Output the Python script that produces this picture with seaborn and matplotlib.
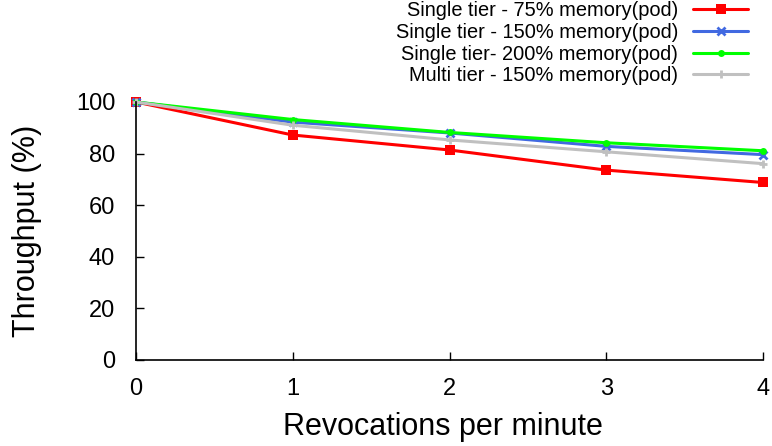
import pandas as pd
import matplotlib.pyplot as plt
import seaborn as sns

# 数据
revocations = [0, 1, 2, 3, 4]
single_75 = [100, 87.2, 81.4, 73.6, 68.8]
single_150 = [100, 92.2, 88.0, 82.8, 79.6]
single_200 = [100, 93.2, 88.2, 84.2, 81.1]
multi_150 = [100, 91.0, 85.3, 80.7, 76.1]

labels = ['Single tier - 75% memory(pod)', 'Single tier - 150% memory(pod)',
          'Single tier- 200% memory(pod)', 'Multi tier - 150% memory(pod)']
series = [single_75, single_150, single_200, multi_150]
colors = ['#ff0000', '#4169e1', '#00ff00', '#c0c0c0']
markers = ['s', 'x', 'o', '+']
msizes = [6.5, 6, 5, 6]
mews = [0, 2, 0, 2]

rows = []
for lab, vals in zip(labels, series):
    for x, v in zip(revocations, vals):
        rows.append({'rev': x, 'tp': v, 'series': lab})
df = pd.DataFrame(rows)

sns.set_style('ticks')
plt.rcParams['font.family'] = ['Liberation Sans', 'DejaVu Sans']
plt.rcParams['text.color'] = 'black'
plt.rcParams['axes.labelcolor'] = 'black'
plt.rcParams['xtick.color'] = 'black'
plt.rcParams['ytick.color'] = 'black'

fig = plt.figure(figsize=(7.72, 4.46), dpi=100)
ax = fig.add_axes([136/772, 1-360/446, (763-136)/772, (360-102)/446])

for lab, c, m, ms, mew in zip(labels, colors, markers, msizes, mews):
    sns.lineplot(data=df[df['series'] == lab], x='rev', y='tp', ax=ax, color=c,
                 marker=m, markersize=ms, markeredgewidth=mew, markeredgecolor=c,
                 linewidth=2.2, label=lab, clip_on=False)

ax.set_xlim(0, 4)
ax.set_ylim(0, 100)
ax.set_xticks(revocations)
ax.set_yticks([0, 20, 40, 60, 80, 100])
ax.tick_params(direction='in', length=6, width=1, labelsize=17)
ax.tick_params(axis='y', pad=15)
ax.tick_params(axis='x', pad=13)
ax.spines['top'].set_visible(False)
ax.spines['right'].set_visible(False)
for s in ['left', 'bottom']:
    ax.spines[s].set_linewidth(1.2)
    ax.spines[s].set_color('black')
ax.set_xlabel('Revocations per minute', fontsize=22, labelpad=11)
ax.xaxis.set_label_coords((443 - 136) / 627, -0.2)
ax.xaxis.label.set_va('top')
ax.set_ylabel('Throughput (%)', fontsize=22, labelpad=24)

ax.legend(loc='upper right', bbox_to_anchor=(748/772, 1 - 1/446), bbox_transform=fig.transFigure,
          frameon=False, markerfirst=False, fontsize=14.4, handlelength=2.75,
          labelspacing=0.14, borderpad=0, borderaxespad=0, handletextpad=0.75)
# 图例文本右对齐
leg = ax.get_legend()
for t in leg.get_texts():
    t.set_ha('right')
leg._legend_box.align = 'right'

plt.savefig('out.png', dpi=100)
plt.close()
